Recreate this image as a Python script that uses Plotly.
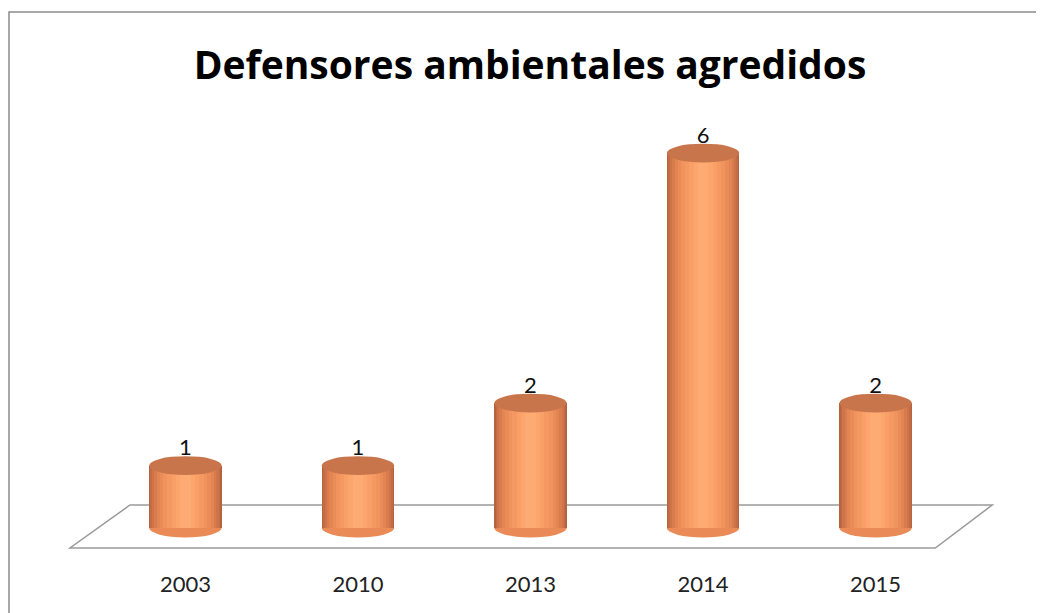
import plotly.graph_objects as go

years = ["2003", "2010", "2013", "2014", "2015"]
agredidos = [1, 1, 2, 6, 2]

# tonos del cilindro, de borde (oscuro) a centro (claro)
shades = ["#B66440", "#C26B44", "#CD7449", "#D87C4E", "#E28553",
          "#EA8C58", "#F0935D", "#F59962", "#F99F67", "#FCA56D", "#FDAA73"]
widths = [0.42, 0.405, 0.385, 0.36, 0.33, 0.295, 0.255, 0.21, 0.16, 0.11, 0.06]

W, H = 1044, 613
# el navegador deja ~8 px de margen en la página
L, R, T, B = 48, 47, 92, 61
x_range = [-0.75, 4.75]
y_range = [-0.512, 6.848]

fig = go.Figure()

for col, w in zip(shades, widths):
    fig.add_trace(go.Bar(
        x=list(range(len(years))), y=agredidos, width=w,
        marker=dict(color=col, line=dict(width=0)),
        hoverinfo="skip", showlegend=False,
    ))

fig.add_trace(go.Scatter(
    x=list(range(len(years))), y=agredidos, mode="markers+text",
    text=[str(v) for v in agredidos], textposition="top center",
    textfont=dict(family="Lato, Noto Sans", size=22, color="#111"),
    marker=dict(size=6, opacity=0), showlegend=False, hoverinfo="skip",
))

shapes = []
# suelo 3D
shapes.append(dict(
    type="path", xref="x", yref="y", layer="below",
    path="M -0.321 0.368 L 4.676 0.368 L 4.346 -0.32 L -0.669 -0.32 Z",
    line=dict(color="#9A9A9A", width=1.5), fillcolor="white",
))
eh = 0.15
half = widths[0] / 2
for i, v in enumerate(agredidos):
    # base del cilindro
    shapes.append(dict(
        type="circle", xref="x", yref="y", layer="below",
        x0=i - half, x1=i + half, y0=-eh, y1=eh,
        fillcolor="#E98A57", line=dict(width=0),
    ))
    # tapa superior
    shapes.append(dict(
        type="circle", xref="x", yref="y", layer="above",
        x0=i - half, x1=i + half, y0=v - eh, y1=v + eh,
        fillcolor="#C9754B", line=dict(width=0),
    ))

# marco del gráfico
pw, ph = W - L - R, H - T - B
shapes.append(dict(
    type="rect", xref="paper", yref="paper",
    x0=(1 - L) / pw, x1=1.2, y0=-1, y1=(H - B - 4) / ph,
    line=dict(color="#8C8C8C", width=1.5), fillcolor="rgba(0,0,0,0)",
))

fig.update_layout(
    width=W, height=H,
    barmode="overlay",
    bargap=0,
    paper_bgcolor="white", plot_bgcolor="white",
    margin=dict(l=L, r=R, t=T, b=B),
    title=dict(
        text="<b>Defensores ambientales agredidos</b>",
        x=0.5, xanchor="center", y=1 - 57 / H, yanchor="middle",
        font=dict(family="Open Sans, Lato", size=39, color="black"),
    ),
    shapes=shapes,
    xaxis=dict(
        range=x_range, tickmode="array",
        tickvals=list(range(len(years))), ticktext=years,
        showgrid=False, zeroline=False, showline=False, ticks="",
        tickfont=dict(family="Lato, Noto Sans", size=22, color="#222"),
        ticklabelstandoff=9,
    ),
    yaxis=dict(range=y_range, visible=False),
)

fig.write_html("out.html")
